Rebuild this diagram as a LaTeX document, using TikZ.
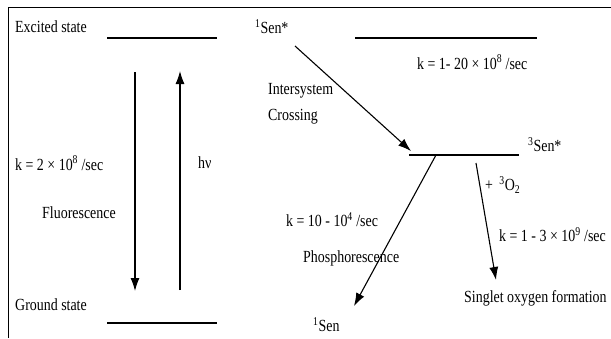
\documentclass[tikz,border=0pt]{standalone}
\usepackage{fontspec}
\setmainfont{Liberation Serif}[FakeStretch=0.82]
\usetikzlibrary{arrows.meta}
\begin{document}
\begin{tikzpicture}[x=1pt,y=-1pt,
  lbl/.style={anchor=west,inner sep=0pt,font=\fontsize{17}{19}\selectfont},
  level/.style={line width=1.3pt},
  trans/.style={line width=1.1pt,-{Latex[length=13pt,width=9pt]}},
  frameline/.style={line width=1.6pt}]
\useasboundingbox (0,0) rectangle (611,338);
\draw[frameline] (8.5,338) -- (8.5,7.5) -- (611,7.5);
% levels
\coordinate (exA) at (107,38); \coordinate (exB) at (217,38);
\coordinate (grA) at (107,323); \coordinate (grB) at (217,323);
\coordinate (s1A) at (355,38); \coordinate (s1B) at (537,38);
\coordinate (t1A) at (409,155); \coordinate (t1B) at (519,155);
\draw[level] (exA) -- (exB);
\draw[level] (grA) -- (grB);
\draw[level] (s1A) -- (s1B);
\draw[level] (t1A) -- (t1B);
% left labels
\node[lbl] (exc) at (15,27) {Excited state};
\node[lbl] (gnd) at (15,305) {Ground state};
\node[lbl] (kf) at (15,163) {k = 2 × 10\textsuperscript{8} /sec};
\node[lbl] (hv) at (198,163) {hν};
\node[lbl] (fl) at (42,213) {Fluorescence};
% vertical arrows
\coordinate (fS) at (135,72); \coordinate (fE) at (135,291);
\coordinate (aS) at (180,290); \coordinate (aE) at (180,71);
\draw[trans] (fS) -- (fE);
\draw[trans] (aS) -- (aE);
% right labels
\node[lbl] (sen1) at (255,27) {\textsuperscript{1}Sen*};
\node[lbl] (kisc) at (417,62) {k = 1- 20 × 10\textsuperscript{8} /sec};
\node[lbl] (isc1) at (268,91) {Intersystem};
\node[lbl] (isc2) at (268,117) {Crossing};
\node[lbl] (sen3) at (528,145) {\textsuperscript{3}Sen*};
\node[lbl] (o2) at (485,185) {+ \,\textsuperscript{3}O\textsubscript{2}};
\node[lbl] (kph) at (286,220) {k = 10 - 10\textsuperscript{4} /sec};
\node[lbl] (ph) at (303,258) {Phosphorescence};
\node[lbl] (kso) at (499,235) {k = 1 - 3 × 10\textsuperscript{9} /sec};
\node[lbl] (so) at (464,298) {Singlet oxygen formation};
\node[lbl] (sen0) at (313,325) {\textsuperscript{1}Sen};
% diagonal arrows
\coordinate (iS) at (295,46); \coordinate (iE) at (411,151);
\coordinate (pS) at (436,155); \coordinate (pE) at (354,306);
\coordinate (oS) at (476,163); \coordinate (oE) at (496,280);
\draw[trans] (iS) -- (iE);
\draw[trans] (pS) -- (pE);
\draw[trans] (oS) -- (oE);
\end{tikzpicture}
\end{document}
